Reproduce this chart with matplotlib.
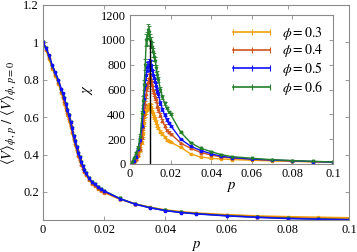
import matplotlib
matplotlib.use("Agg")
import matplotlib.pyplot as plt
from matplotlib.lines import Line2D
import numpy as np

plt.rcParams['font.family'] = ['Liberation Serif', 'DejaVu Serif']
plt.rcParams['mathtext.fontset'] = 'stix'

p = [0, .001, .002, .003, .004, .005, .006, .0065, .007, .0075, .008, .0085, .009, .0095,
     .010, .0105, .011, .0115, .012, .0125, .013, .0135, .014, .015, .016, .017, .018, .019,
     .020, .025, .030, .035, .040, .045, .050, .060, .070, .080, .090, .100]

phis = ["0.3", "0.4", "0.5", "0.6"]
colors = ['#f2a20f', '#d0541c', '#1010ff', '#23802a']
markers = ['s', '^', 's', 'v']

# main curves <V>_{phi,p}/<V>_{phi,0}
v_03 = [1.0, 0.96, 0.91, 0.86, 0.82, 0.78, 0.73, 0.70, 0.67, 0.64, 0.61, 0.58, 0.55, 0.515,
        0.48, 0.45, 0.42, 0.39, 0.365, 0.345, 0.325, 0.305, 0.29, 0.265, 0.245, 0.23, 0.215, 0.205,
        0.197, 0.162, 0.137, 0.118, 0.104, 0.095, 0.088, 0.079, 0.072, 0.068, 0.065, 0.062]
v_04 = [1.0, 0.965, 0.92, 0.87, 0.83, 0.79, 0.74, 0.715, 0.685, 0.655, 0.625, 0.595, 0.56, 0.525,
        0.49, 0.46, 0.43, 0.40, 0.375, 0.35, 0.33, 0.31, 0.295, 0.27, 0.25, 0.235, 0.22, 0.21,
        0.20, 0.163, 0.136, 0.117, 0.102, 0.092, 0.085, 0.075, 0.067, 0.062, 0.058, 0.055]
v_05 = [1.0, 0.97, 0.93, 0.88, 0.84, 0.80, 0.75, 0.73, 0.70, 0.67, 0.64, 0.61, 0.575, 0.54,
        0.50, 0.47, 0.44, 0.41, 0.385, 0.36, 0.34, 0.32, 0.30, 0.275, 0.255, 0.24, 0.225, 0.215,
        0.205, 0.165, 0.135, 0.115, 0.100, 0.090, 0.083, 0.072, 0.064, 0.058, 0.054, 0.051]
v_06 = [1.0, 0.97, 0.925, 0.875, 0.835, 0.795, 0.745, 0.725, 0.70, 0.67, 0.64, 0.61, 0.575, 0.54,
        0.50, 0.47, 0.44, 0.41, 0.385, 0.36, 0.34, 0.32, 0.30, 0.275, 0.255, 0.24, 0.225, 0.215,
        0.206, 0.166, 0.136, 0.116, 0.101, 0.091, 0.084, 0.073, 0.065, 0.059, 0.055, 0.052]

# susceptibility chi
chi_03 = [2, 8, 20, 35, 70, 110, 180, 240, 330, 400, 430, 450, 460, 470,
          465, 460, 430, 400, 380, 360, 340, 310, 290, 260, 245, 220, 195, 185,
          175, 134, 80, 56, 46, 40, 36, 30, 25, 21, 17, 14]
chi_04 = [2, 8, 20, 40, 75, 120, 220, 300, 400, 480, 560, 620, 660, 690,
          700, 680, 640, 600, 570, 540, 520, 470, 440, 395, 350, 310, 275, 255,
          245, 167, 126, 92, 72, 57, 48, 38, 30, 24, 19, 14]
chi_05 = [3, 10, 25, 60, 120, 190, 310, 420, 520, 640, 720, 780, 790, 800,
          790, 800, 760, 720, 690, 660, 630, 590, 560, 490, 440, 395, 360, 330,
          310, 200, 142, 108, 82, 62, 52, 40, 32, 26, 20, 15]
chi_06 = [5, 20, 45, 90, 130, 220, 400, 510, 640, 800, 1000, 1010, 1080, 1060,
          1000, 980, 940, 900, 860, 830, 770, 720, 680, 600, 540, 490, 450, 420,
          400, 255, 170, 126, 99, 75, 60, 46, 35, 28, 22, 16]

err_03 = [1, 2, 4, 6, 10, 14, 18, 20, 22, 24, 25, 25, 25, 25,
          25, 25, 22, 20, 18, 16, 15, 14, 12, 10, 9, 8, 7, 6,
          6, 4, 3, 2, 2, 2, 1, 1, 1, 1, 1, 1]
err_04 = [1, 2, 4, 6, 10, 15, 20, 25, 28, 30, 32, 34, 35, 35,
          35, 34, 32, 30, 26, 24, 22, 20, 18, 14, 12, 10, 9, 8,
          7, 5, 4, 3, 2, 2, 1, 1, 1, 1, 1, 1]
err_05 = [1, 3, 5, 8, 12, 18, 24, 30, 34, 38, 40, 42, 42, 42,
          40, 40, 38, 34, 30, 28, 25, 22, 20, 16, 14, 12, 10, 9,
          8, 5, 4, 3, 2, 2, 1, 1, 1, 1, 1, 1]
err_06 = [2, 4, 6, 10, 15, 22, 30, 36, 40, 45, 48, 50, 50, 50,
          48, 46, 42, 38, 34, 30, 28, 25, 22, 18, 15, 13, 11, 10,
          9, 6, 4, 3, 2, 2, 1, 1, 1, 1, 1, 1]

v_all = [v_03, v_04, v_05, v_06]
chi_all = [chi_03, chi_04, chi_05, chi_06]
err_all = [err_03, err_04, err_05, err_06]
main_order = [0, 1, 3, 2]

p_c = 0.01
chi_c = 1000

W, H = 357, 252
fig = plt.figure(figsize=(W / 100, H / 100), dpi=100)
spine_c = '#8a8a8a'
fs = 9

ax = fig.add_axes([43 / W, 1 - 220 / H, (349 - 43) / W, (220 - 5) / H])
for i in main_order:
    ax.plot(p, v_all[i], color=colors[i], marker=markers[i], ms=2.0, lw=1.1)
ax.set_xlim(0, 0.1)
ax.set_ylim(0.05, 1.2)
ax.set_xticks([0, 0.02, 0.04, 0.06, 0.08, 0.1])
ax.set_yticks([0.2, 0.4, 0.6, 0.8, 1.0, 1.2])
ax.set_xticklabels(['0', '0.02', '0.04', '0.06', '0.08', '0.1'])
ax.set_yticklabels(['0.2', '0.4', '0.6', '0.8', '1', '1.2'])
ax.set_xlabel(r'$p$', fontsize=fs + 1.5, labelpad=2)
ax.set_ylabel(r'$\langle V\rangle_{\phi,\,p}\ /\ \langle V\rangle_{\phi,\,p=0}$',
              fontsize=fs + 1.5, labelpad=3)

ins = fig.add_axes([130 / W, 1 - 164 / H, (333 - 130) / W, (164 - 15) / H])
for chi, e, c, m in zip(chi_all, err_all, colors, markers):
    ins.errorbar(p, chi, yerr=e, color=c, marker=m, ms=1.8, lw=1.0, elinewidth=0.6,
                 capsize=1.2, capthick=0.6)
ins.vlines(p_c, 0, chi_c, color='black', lw=1.0, zorder=5)
ins.set_xlim(0, 0.1)
ins.set_ylim(0, 1200)
ins.set_xticks([0, 0.02, 0.04, 0.06, 0.08, 0.1])
ins.set_xticklabels(['0', '0.02', '0.04', '0.06', '0.08', '0.1'])
ins.set_yticks([0, 200, 400, 600, 800, 1000, 1200])
ins.set_xlabel(r'$p$', fontsize=fs + 1.5, labelpad=0)
ins.set_ylabel(r'$\chi$', fontsize=fs + 1.5, labelpad=4)
handles = [Line2D([0], [0], color=c, lw=1.2, marker='|', ms=4, mew=0.8) for c in colors]
labels = [r'$\phi = %s$' % ph for ph in phis]
ins.legend(handles, labels, loc='upper right', frameon=False, fontsize=fs + 1,
           handlelength=3.2, handletextpad=0.6, labelspacing=0.05, borderaxespad=0.3,
           numpoints=3)

for a in (ax, ins):
    for s in a.spines.values():
        s.set_color(spine_c)
        s.set_linewidth(0.8)
    a.tick_params(direction='in', top=True, right=True, length=3, width=0.6,
                  color=spine_c, labelsize=fs, pad=3)

fig.savefig('out.png', dpi=100)
